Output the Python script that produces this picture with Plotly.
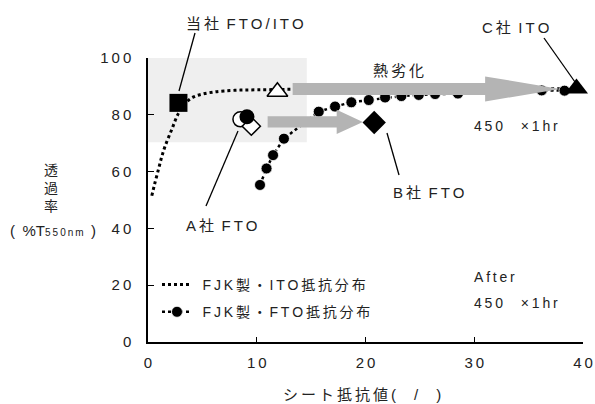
import plotly.graph_objects as go

TS = "\u2009"  # thin space used as letter spacing
EN = "\u2002"


def sp(s):
    return TS.join(list(s))


# ---------------- data ----------------
ito_x = [0.35, 0.6, 0.95, 1.25, 1.56, 2.2, 2.8, 3.5, 4.2, 5.0, 6.0, 7.0, 8.5, 10.0, 11.9, 14.0, 20.0, 30.0, 38.0]
ito_y = [51.5, 55.5, 60.6, 65.0, 68.8, 75.0, 80.5, 84.3, 86.3, 87.3, 88.0, 88.4, 88.7, 88.8, 88.9, 89.0, 89.0, 89.0, 89.2]

fto_x = [10.3, 10.9, 11.5, 12.5, 15.7, 17.2, 18.7, 20.3, 21.8, 23.3, 24.9, 26.4, 28.5, 36.2, 38.3]
fto_y = [55.3, 61.1, 65.8, 71.6, 81.1, 82.9, 84.4, 85.2, 86.1, 86.6, 87.0, 87.3, 87.5, 88.6, 88.5]

own_x, own_y = [2.8], [84.2]                # 当社 FTO/ITO (filled square)
own_after_x, own_after_y = [11.9], [88.1]   # open triangle
a_x, a_y = [8.5], [78.4]                    # A社 FTO (open circle)
a2_x, a2_y = [9.5], [76.0]                  # open diamond
fjk_a_x, fjk_a_y = [9.1], [79.3]            # filled circle
b_x, b_y = [20.8], [77.3]                   # B社 FTO (filled diamond)
c_x, c_y = [39.4], [89.3]                   # C社 ITO (filled triangle)

x_ticks = [0, 10, 20, 30, 40]
y_ticks = [0, 20, 40, 60, 80, 100]

FONT = "Liberation Sans, Arial, Noto Sans CJK JP, sans-serif"
TXT = "#222222"

fig = go.Figure()

fig.add_trace(go.Scatter(
    x=ito_x, y=ito_y, mode="lines", line=dict(color="black", width=3, dash="dot", shape="spline"),
    name=TS + TS + sp("FJK製・ITO抵抗分布"), legendgroup="g1"))
fig.add_trace(go.Scatter(
    x=fto_x, y=fto_y, mode="lines+markers", line=dict(color="black", width=2.5, dash="dot"),
    marker=dict(color="black", size=11, line=dict(color="white", width=0.8)),
    name=TS + TS + sp("FJK製・FTO抵抗分布"), legendgroup="g2", cliponaxis=False))


def pt(x, y, symbol, size, fill, lw=1.5):
    fig.add_trace(go.Scatter(x=x, y=y, mode="markers", showlegend=False, cliponaxis=False,
                             marker=dict(symbol=symbol, size=size, color=fill,
                                         line=dict(color="black", width=lw))))


pt(own_x, own_y, "square", 18, "black", 0)
pt(own_after_x, own_after_y, "triangle-up", 18, "white", 1.5)
pt(a_x, a_y, "circle", 15, "white", 1.5)
pt(a2_x, a2_y, "diamond", 14, "white", 1.5)
pt(fjk_a_x, fjk_a_y, "circle", 15, "black", 0)
pt(b_x, b_y, "diamond", 18, "black", 0)
pt(c_x, c_y, "triangle-up", 20, "black", 0)

# ---------------- geometry ----------------
# the page body margin is removed (post_script), so the figure fills the window
RL, RT, PW, PH = 148, 58, 435, 284      # plot area in reference pixels
W, H = 595, 404
ML, MT = RL, RT


def px(xp):
    return (xp - RL) / PW


def py(yp):
    return (RT + PH - yp) / PH


# ---------------- shapes ----------------
shapes = [dict(type="rect", xref="x", yref="y", x0=0, x1=14.6, y0=70.3, y1=100,
               fillcolor="#efefef", line=dict(width=0), layer="below")]


def arrow(x0, xb, xt, yc, hs, hh):
    path = (f"M{x0},{yc-hs} L{xb},{yc-hs} L{xb},{yc-hh} L{xt},{yc} "
            f"L{xb},{yc+hh} L{xb},{yc+hs} L{x0},{yc+hs} Z")
    return dict(type="path", xref="x", yref="y", path=path, fillcolor="#b4b4b4",
                line=dict(width=0), layer="above")


shapes.append(arrow(13.3, 31.0, 37.9, 89.1, 2.1, 4.4))
shapes.append(arrow(11.0, 17.35, 19.76, 77.5, 1.95, 4.3))

for (x0, y0, x1, y1) in [(195, 33, 179, 91), (206, 206, 238, 131), (399, 175, 387, 133), (544, 38, 575, 82)]:
    shapes.append(dict(type="line", xref="paper", yref="paper", x0=px(x0), y0=py(y0),
                       x1=px(x1), y1=py(y1), line=dict(color="black", width=1.3)))

# ---------------- annotations ----------------
anns = []


def text(xp, yp, s, size=14, xanchor="center"):
    anns.append(dict(xref="paper", yref="paper", x=px(xp), y=py(yp), text=s, showarrow=False,
                     xanchor=xanchor, yanchor="middle", font=dict(size=size, color=TXT, family=FONT)))


text(245, 23, sp("当社") + EN + sp("FTO/ITO"), 15)
text(515, 27, sp("C社") + EN + sp("ITO"), 15)
text(429, 192, sp("B社") + EN + sp("FTO"), 15)
text(222, 225, sp("A社") + EN + sp("FTO"), 15)
text(398, 70, sp("熱劣化"), 15)
text(472, 126, sp("450") + "\u3000 " + sp("×1hr"), 14, "left")
text(472, 277, sp("After"), 14, "left")
text(472, 303, sp("450") + "\u3000 " + sp("×1hr"), 14, "left")
text(51, 188, "透<br>過<br>率", 14)
text(53, 230, "(" + EN + "%T" + "<span style='font-size:10px'>" + sp("550nm") + "</span>" + EN + ")", 15)
text(362, 394, sp("シート抵抗値") + TS + "(" + "\u3000" + TS + "/" + "\u3000" + TS + ")", 15)

fig.update_layout(
    width=W, height=H, autosize=False,
    margin=dict(l=ML, r=W - ML - PW, t=MT, b=H - MT - PH, pad=0, autoexpand=False),
    paper_bgcolor="white", plot_bgcolor="white",
    font=dict(family=FONT, size=14, color=TXT),
    shapes=shapes, annotations=anns,
    showlegend=True,
    legend=dict(x=px(157), y=py(269), xanchor="left", yanchor="top", bgcolor="rgba(0,0,0,0)",
                font=dict(size=14, color=TXT, family=FONT), tracegroupgap=6),
)

fig.update_xaxes(range=[0, 40], showgrid=False, zeroline=False, showline=True, linecolor="black",
                 linewidth=1.5, ticks="inside", ticklen=5, tickcolor="black", tickwidth=1,
                 tickvals=x_ticks, ticktext=[sp(str(v)) for v in x_ticks],
                 tickfont=dict(size=15, color=TXT), ticklabelstandoff=6, automargin=False)
fig.update_yaxes(range=[0, 100], showgrid=False, zeroline=False, showline=True, linecolor="black",
                 linewidth=1.5, ticks="inside", ticklen=6, tickcolor="black", tickwidth=1,
                 tickvals=y_ticks, ticktext=[sp(str(v)) for v in y_ticks],
                 tickfont=dict(size=15, color=TXT), ticklabelstandoff=12, automargin=False)

post = "document.body.style.margin='0';document.body.style.overflow='hidden';"
fig.write_html("out.html", post_script=post, config={"displayModeBar": False})
